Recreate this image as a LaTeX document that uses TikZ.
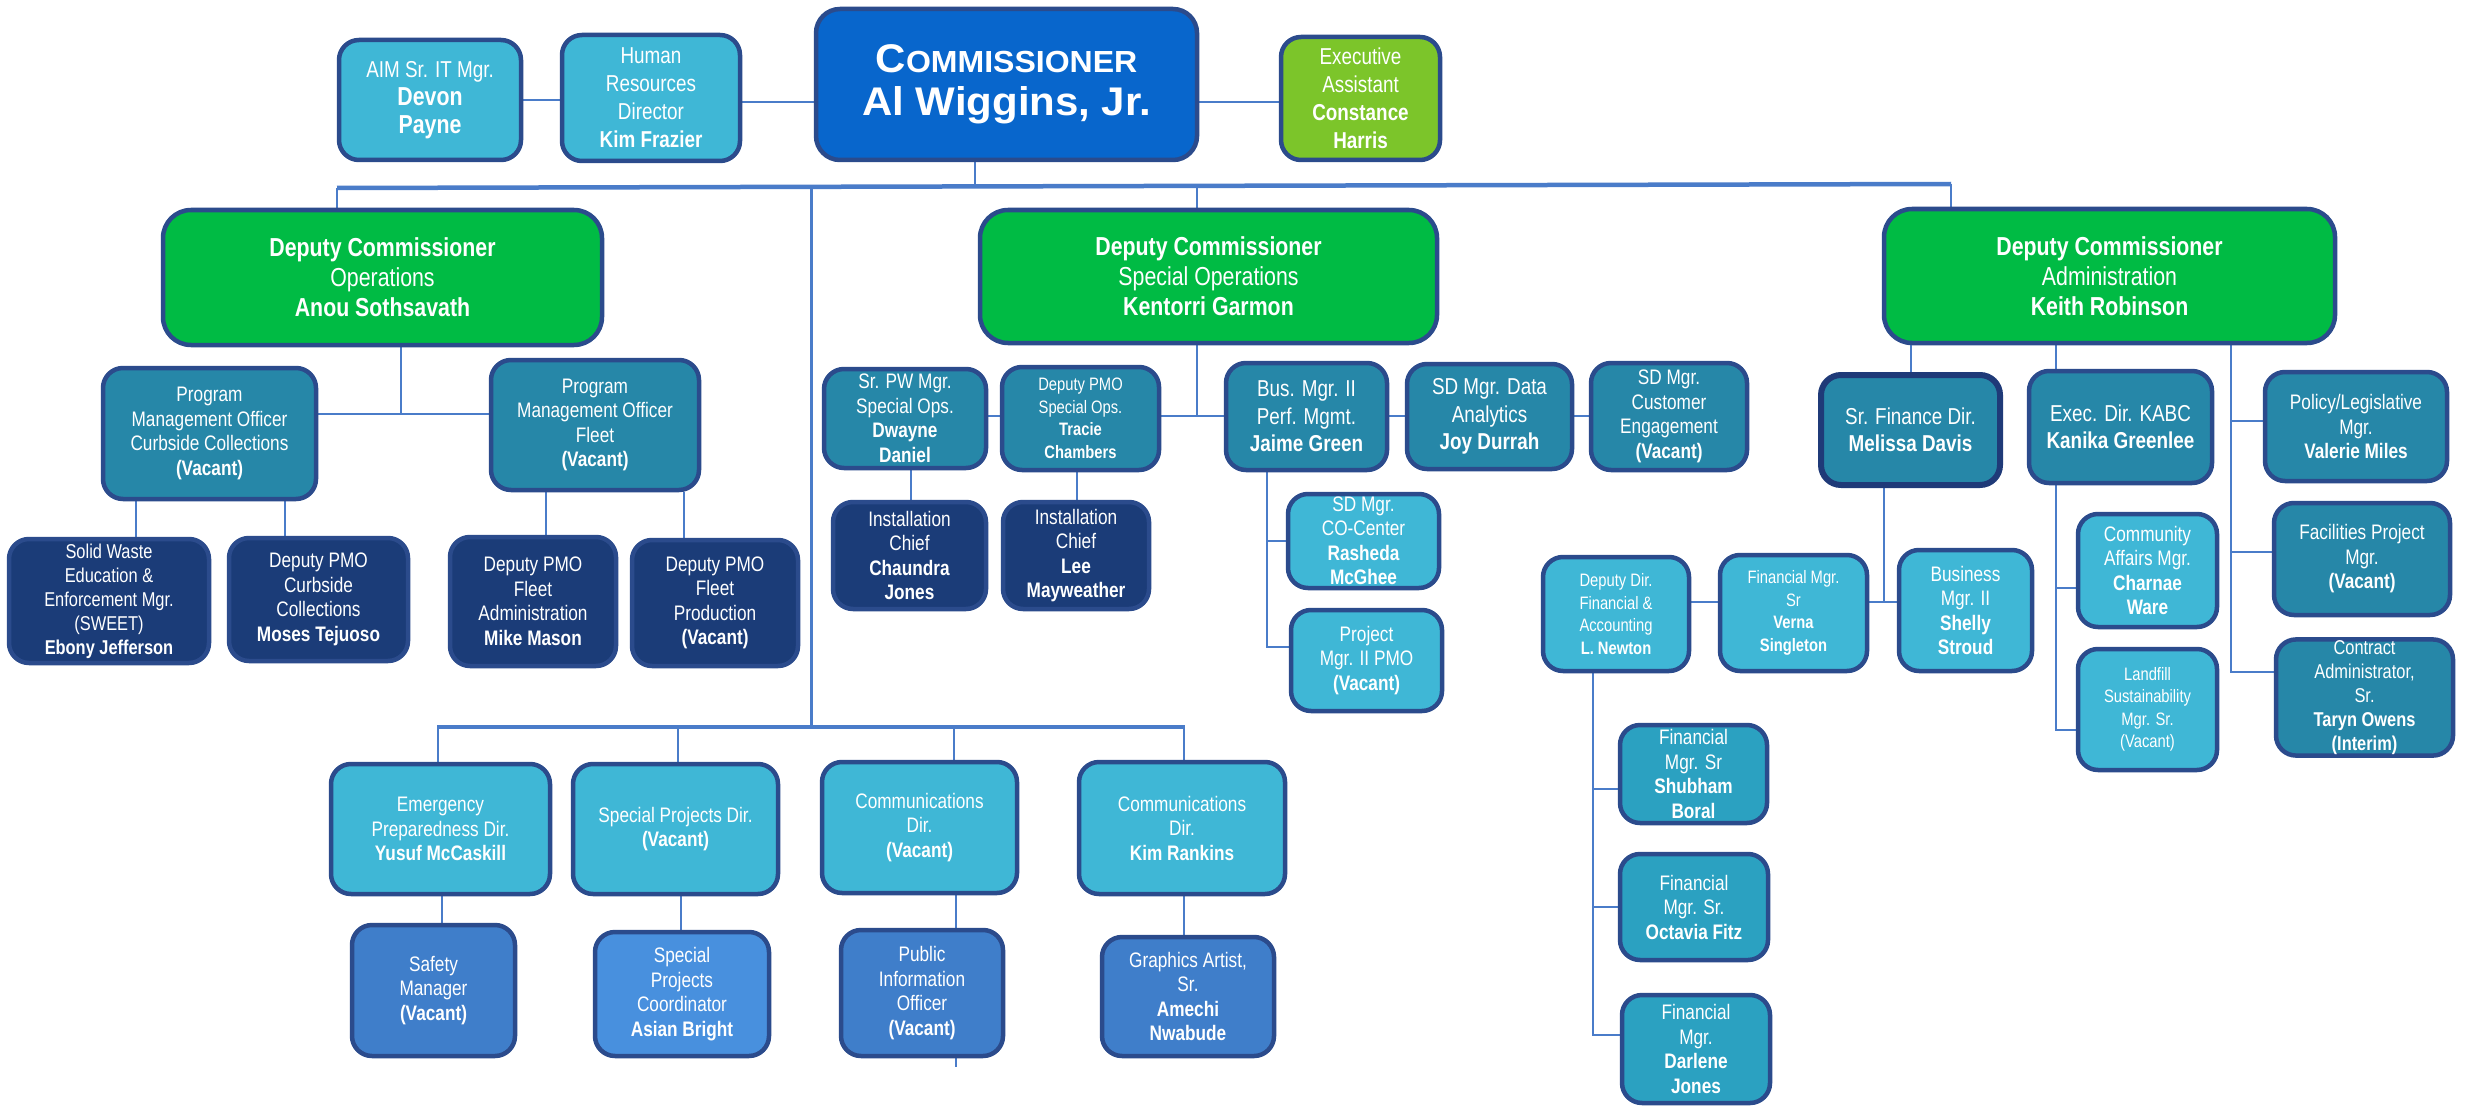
\documentclass[tikz,border=0pt]{standalone}
\usepackage{fontspec}
\setmainfont{Liberation Sans}[FakeStretch=0.82]
\newfontfamily\commfont{Liberation Sans}[FakeStretch=1.05]
\usetikzlibrary{backgrounds,calc}
\definecolor{cyanbox}{HTML}{3FB7D6}
\definecolor{tealbox}{HTML}{2687A8}
\definecolor{navybox}{HTML}{1B3C78}
\definecolor{greenbox}{HTML}{00BB44}
\definecolor{limebox}{HTML}{7CC52A}
\definecolor{commbox}{HTML}{0866CC}
\definecolor{bluebox}{HTML}{3F7ECA}
\definecolor{lbluebox}{HTML}{4890DE}
\definecolor{midbox}{HTML}{2BA1C1}
\definecolor{edgecol}{HTML}{2B4B8C}
\definecolor{darkedge}{HTML}{1F3A78}
\definecolor{conncol}{HTML}{4A7CC9}
\tikzset{
  box/.style={draw=edgecol, line width=4.5pt, rounded corners=20pt, text=white, align=center, inner sep=1pt},
  cyanb/.style={fill=cyanbox},
  tealb/.style={fill=tealbox},
  navyb/.style={fill=navybox},
  greenb/.style={fill=greenbox, rounded corners=28pt},
  limeb/.style={fill=limebox},
  blueb/.style={fill=bluebox},
  lblueb/.style={fill=lbluebox},
  midb/.style={fill=midbox},
  conn/.style={draw=conncol, line width=2.2pt},
  busline/.style={draw=conncol, line width=4.5pt},
  fT/.style={font=\fontsize{23}{28}\selectfont},
  fD/.style={font=\fontsize{26}{30}\selectfont},
  fA/.style={font=\fontsize{21}{24.5}\selectfont},
  fB/.style={font=\fontsize{23}{27.5}\selectfont},
  fS/.style={font=\fontsize{18}{22.5}\selectfont},
  fX/.style={font=\fontsize{20}{24}\selectfont},
  fC/.style={font=\commfont\bfseries\fontsize{40}{43}\selectfont},
}
\newcommand\bx[7]{\node[box,#6,minimum width={(#4-#2-4)*1pt},minimum height={(#5-#3-4)*1pt}] (#1) at ({(#2+#4)/2},{(#3+#5)/2}) {#7};}
\newcommand\nmb[1]{{\fontsize{26}{29}\selectfont\bfseries #1}}
\begin{document}
\begin{tikzpicture}[x=1pt,y=-1pt]
\useasboundingbox (0,0) rectangle (2483,1110);
% top row
\bx{aim}{337}{38}{523}{162}{cyanb,fT}{AIM Sr. IT Mgr.\\\nmb{Devon}\\\nmb{Payne}}
\bx{hr}{560}{33}{742}{163}{cyanb,fT}{Human\\Resources\\Director\\\textbf{Kim Frazier}}
\node[box,fill=commbox,rounded corners=24pt,minimum width=381pt,minimum height=151pt,fC] (comm) at (1006.5,84.5)
  {{\fontsize{40}{43}\selectfont C}{\fontsize{30.5}{43}\selectfont OMMISSIONER}\\Al Wiggins, Jr.};
\bx{ea}{1279}{35}{1442}{162}{limeb,fT}{Executive\\Assistant\\\textbf{Constance}\\\textbf{Harris}}
% deputies
\bx{dops}{161}{208}{604}{347}{greenb,fD}{\textbf{Deputy Commissioner}\\Operations\\\textbf{Anou Sothsavath}}
\bx{dsp}{978}{208}{1439}{345}{greenb,fD}{\textbf{Deputy Commissioner}\\Special Operations\\\textbf{Kentorri Garmon}}
\bx{dad}{1882}{207}{2337}{345}{greenb,fD}{\textbf{Deputy Commissioner}\\Administration\\\textbf{Keith Robinson}}
% left subtree
\bx{pmoC}{101}{366}{318}{501}{tealb,fA}{Program\\Management Officer\\Curbside Collections\\\textbf{(Vacant)}}
\bx{pmoF}{489}{358}{701}{492}{tealb,fA}{Program\\Management Officer\\Fleet\\\textbf{(Vacant)}}
\bx{sw}{7}{537}{211}{665}{navyb,fX}{Solid Waste\\Education \&\\Enforcement Mgr.\\(SWEET)\\\textbf{Ebony Jefferson}}
\bx{dpc}{227}{536}{410}{663}{navyb,fA}{Deputy PMO\\Curbside\\Collections\\\textbf{Moses Tejuoso}}
\bx{dfa}{448}{535}{618}{668}{navyb,fA}{Deputy PMO\\Fleet\\Administration\\\textbf{Mike Mason}}
\bx{dfp}{630}{538}{800}{668}{navyb,fA}{Deputy PMO\\Fleet\\Production\\\textbf{(Vacant)}}
% middle subtree
\bx{srpw}{822}{367}{988}{470}{tealb,fA}{Sr. PW Mgr.\\Special Ops.\\\textbf{Dwayne}\\\textbf{Daniel}}
\bx{dpso}{1000}{365}{1161}{472}{tealb,fS}{Deputy PMO\\Special Ops.\\\textbf{Tracie}\\\textbf{Chambers}}
\bx{bm}{1224}{361}{1389}{472}{tealb,fB}{Bus. Mgr. II\\Perf. Mgmt.\\\textbf{Jaime Green}}
\bx{sdda}{1405}{362}{1574}{471}{tealb,fB}{SD Mgr. Data\\Analytics\\\textbf{Joy Durrah}}
\bx{sdce}{1589}{361}{1749}{472}{tealb,fA}{SD Mgr.\\Customer\\Engagement\\\textbf{(Vacant)}}
\bx{ic1}{831}{500}{988}{611}{navyb,fA}{Installation\\Chief\\\textbf{Chaundra}\\\textbf{Jones}}
\bx{ic2}{1001}{500}{1151}{611}{navyb,fA}{Installation\\Chief\\\textbf{Lee}\\\textbf{Mayweather}}
\bx{co}{1286}{492}{1441}{590}{cyanb,fA}{SD Mgr.\\CO-Center\\\textbf{Rasheda}\\\textbf{McGhee}}
\bx{pm}{1289}{608}{1444}{713}{cyanb,fA}{Project\\Mgr. II PMO\\\textbf{(Vacant)}}
% right subtree
\node[box,fill=tealbox,draw=darkedge,line width=6pt,fB,minimum width=179pt,minimum height=110pt] (sfd) at (1910.5,430) {Sr. Finance Dir.\\\textbf{Melissa Davis}};
\bx{exd}{2027}{369}{2214}{485}{tealb,fB}{Exec. Dir. KABC\\\textbf{Kanika Greenlee}}
\bx{pol}{2263}{370}{2449}{483}{tealb,fA}{Policy/Legislative\\Mgr.\\\textbf{Valerie Miles}}
\bx{fac}{2272}{501}{2452}{617}{tealb,fA}{Facilities Project\\Mgr.\\\textbf{(Vacant)}}
\bx{con}{2274}{639}{2455}{756}{tealb,fX}{Contract\\Administrator,\\Sr.\\\textbf{Taryn Owens}\\\textbf{(Interim)}}
\bx{cam}{2076}{512}{2219}{629}{cyanb,fA}{Community\\Affairs Mgr.\\\textbf{Charnae}\\\textbf{Ware}}
\bx{lfs}{2076}{647}{2219}{772}{cyanb,fS}{Landfill\\Sustainability\\Mgr. Sr.\\(Vacant)}
\bx{bm2}{1897}{548}{2034}{673}{cyanb,fA}{Business\\Mgr. II\\\textbf{Shelly}\\\textbf{Stroud}}
\bx{fmv}{1718}{553}{1869}{673}{cyanb,fS}{Financial Mgr.\\Sr\\\textbf{Verna}\\\textbf{Singleton}}
\bx{ddfa}{1541}{555}{1691}{673}{cyanb,fS}{Deputy Dir.\\Financial \&\\Accounting\\\textbf{L. Newton}}
\bx{fm1}{1618}{723}{1769}{825}{midb,fA}{Financial\\Mgr. Sr\\\textbf{Shubham}\\\textbf{Boral}}
\bx{fm2}{1618}{852}{1770}{962}{midb,fA}{Financial\\Mgr. Sr.\\\textbf{Octavia Fitz}}
\bx{fm3}{1620}{993}{1772}{1105}{midb,fA}{Financial\\Mgr.\\\textbf{Darlene}\\\textbf{Jones}}
% bottom subtree
\bx{ep}{329}{762}{552}{896}{cyanb,fA}{Emergency\\Preparedness Dir.\\\textbf{Yusuf McCaskill}}
\bx{spd}{571}{762}{780}{896}{cyanb,fA}{Special Projects Dir.\\\textbf{(Vacant)}}
\bx{cd1}{820}{760}{1019}{895}{cyanb,fA}{Communications\\Dir.\\\textbf{(Vacant)}}
\bx{cd2}{1077}{760}{1287}{896}{cyanb,fA}{Communications\\Dir.\\\textbf{Kim Rankins}}
\bx{sm}{350}{923}{517}{1058}{blueb,fA}{Safety\\Manager\\\textbf{(Vacant)}}
\bx{spc}{593}{930}{771}{1058}{lblueb,fA}{Special\\Projects\\Coordinator\\\textbf{Asian Bright}}
\bx{pio}{839}{928}{1005}{1058}{blueb,fA}{Public\\Information\\Officer\\\textbf{(Vacant)}}
\bx{ga}{1100}{935}{1276}{1058}{blueb,fA}{Graphics Artist,\\Sr.\\\textbf{Amechi}\\\textbf{Nwabude}}
\begin{pgfonlayer}{background}
\fill[white] (0,0) rectangle (2483,1110);
% top connectors
\draw[conn] (aim.east) -- (aim.east -| hr.west);
\coordinate (t1) at (742,102);
\draw[conn] (t1 -| hr.east) -- (t1 -| comm.west);
\draw[conn] (t1 -| comm.east) -- (t1 -| ea.west);
\coordinate (tk) at (975,187);
\draw[conn] (tk |- comm.south) -- (tk);
\coordinate (busL) at (337,188);
\coordinate (busR) at (1951,184);
\draw[busline] (busL) -- (busR);
\draw[conn] (busL) -- (busL |- dops.north);
\coordinate (b3) at (1197,186);
\draw[conn] (b3) -- (b3 |- dsp.north);
\draw[conn] (busR) -- (busR |- dad.north);
\coordinate (j1) at (811,187);
\coordinate (j2) at (811,727);
\draw[conn,line width=3pt] (j1) -- (j2);
% left
\coordinate (l1) at (401,414);
\draw[conn] (l1 |- dops.south) -- (l1);
\draw[conn] (pmoC.east |- l1) -- (pmoF.west |- l1);
\coordinate (l2) at (136,0);
\draw[conn] (l2 |- pmoC.south) -- (l2 |- sw.north);
\coordinate (l3) at (285,0);
\draw[conn] (l3 |- pmoC.south) -- (l3 |- dpc.north);
\coordinate (l4) at (546,0);
\draw[conn] (l4 |- pmoF.south) -- (l4 |- dfa.north);
\coordinate (l5) at (684,0);
\draw[conn] (l5 |- pmoF.south) -- (l5 |- dfp.north);
% middle
\coordinate (m1) at (1197,416);
\draw[conn] (m1 |- dsp.south) -- (m1);
\draw[conn] (srpw.east |- m1) -- (sdce.west |- m1);
\coordinate (m3) at (911,0);
\draw[conn] (m3 |- srpw.south) -- (m3 |- ic1.north);
\coordinate (m4) at (1077,0);
\draw[conn] (m4 |- dpso.south) -- (m4 |- ic2.north);
\coordinate (m2) at (1267,647);
\draw[conn] (m2 |- bm.south) -- (m2) -- (pm.west |- m2);
\draw[conn] (m2 |- co.west) -- (co.west);
% right
\coordinate (r1) at (1911,0);
\draw[conn] (r1 |- dad.south) -- (r1 |- sfd.north);
\coordinate (r2) at (2056,0);
\draw[conn] (r2 |- dad.south) -- (r2 |- exd.north);
\coordinate (r3) at (2231,672);
\draw[conn] (r3 |- dad.south) -- (r3) -- (con.west |- r3);
\coordinate (r3a) at (2231,421);
\draw[conn] (r3a) -- (pol.west |- r3a);
\coordinate (r3b) at (2231,552);
\draw[conn] (r3b) -- (fac.west |- r3b);
\coordinate (r4) at (2056,730);
\draw[conn] (r4 |- exd.south) -- (r4) -- (lfs.west |- r4);
\coordinate (r5) at (2056,588);
\draw[conn] (r5) -- (cam.west |- r5);
\coordinate (r6) at (1884,602);
\draw[conn] (r6 |- sfd.south) -- (r6);
\draw[conn] (ddfa.east |- r6) -- (bm2.west |- r6);
\coordinate (r7) at (1593,1035);
\draw[conn] (r7 |- ddfa.south) -- (r7) -- (fm3.west |- r7);
\coordinate (r8) at (1593,789);
\draw[conn] (r8) -- (fm1.west |- r8);
\coordinate (r9) at (1593,907);
\draw[conn] (r9) -- (fm2.west |- r9);
% bottom
\coordinate (bb1) at (437,727);
\coordinate (bb2) at (1185,727);
\draw[busline] (bb1) -- (bb2);
\coordinate (d1) at (438,727);
\draw[conn] (d1) -- (d1 |- ep.north);
\coordinate (d2) at (678,727);
\draw[conn] (d2) -- (d2 |- spd.north);
\coordinate (d3) at (954,727);
\draw[conn] (d3) -- (d3 |- cd1.north);
\coordinate (d4) at (1184,727);
\draw[conn] (d4) -- (d4 |- cd2.north);
\coordinate (e1) at (442,0);
\draw[conn] (e1 |- ep.south) -- (e1 |- sm.north);
\coordinate (e2) at (681,0);
\draw[conn] (e2 |- spd.south) -- (e2 |- spc.north);
\coordinate (e3) at (956,1067);
\draw[conn] (e3 |- cd1.south) -- (e3);
\coordinate (e4) at (1184,0);
\draw[conn] (e4 |- cd2.south) -- (e4 |- ga.north);
\end{pgfonlayer}
\end{tikzpicture}
\end{document}
